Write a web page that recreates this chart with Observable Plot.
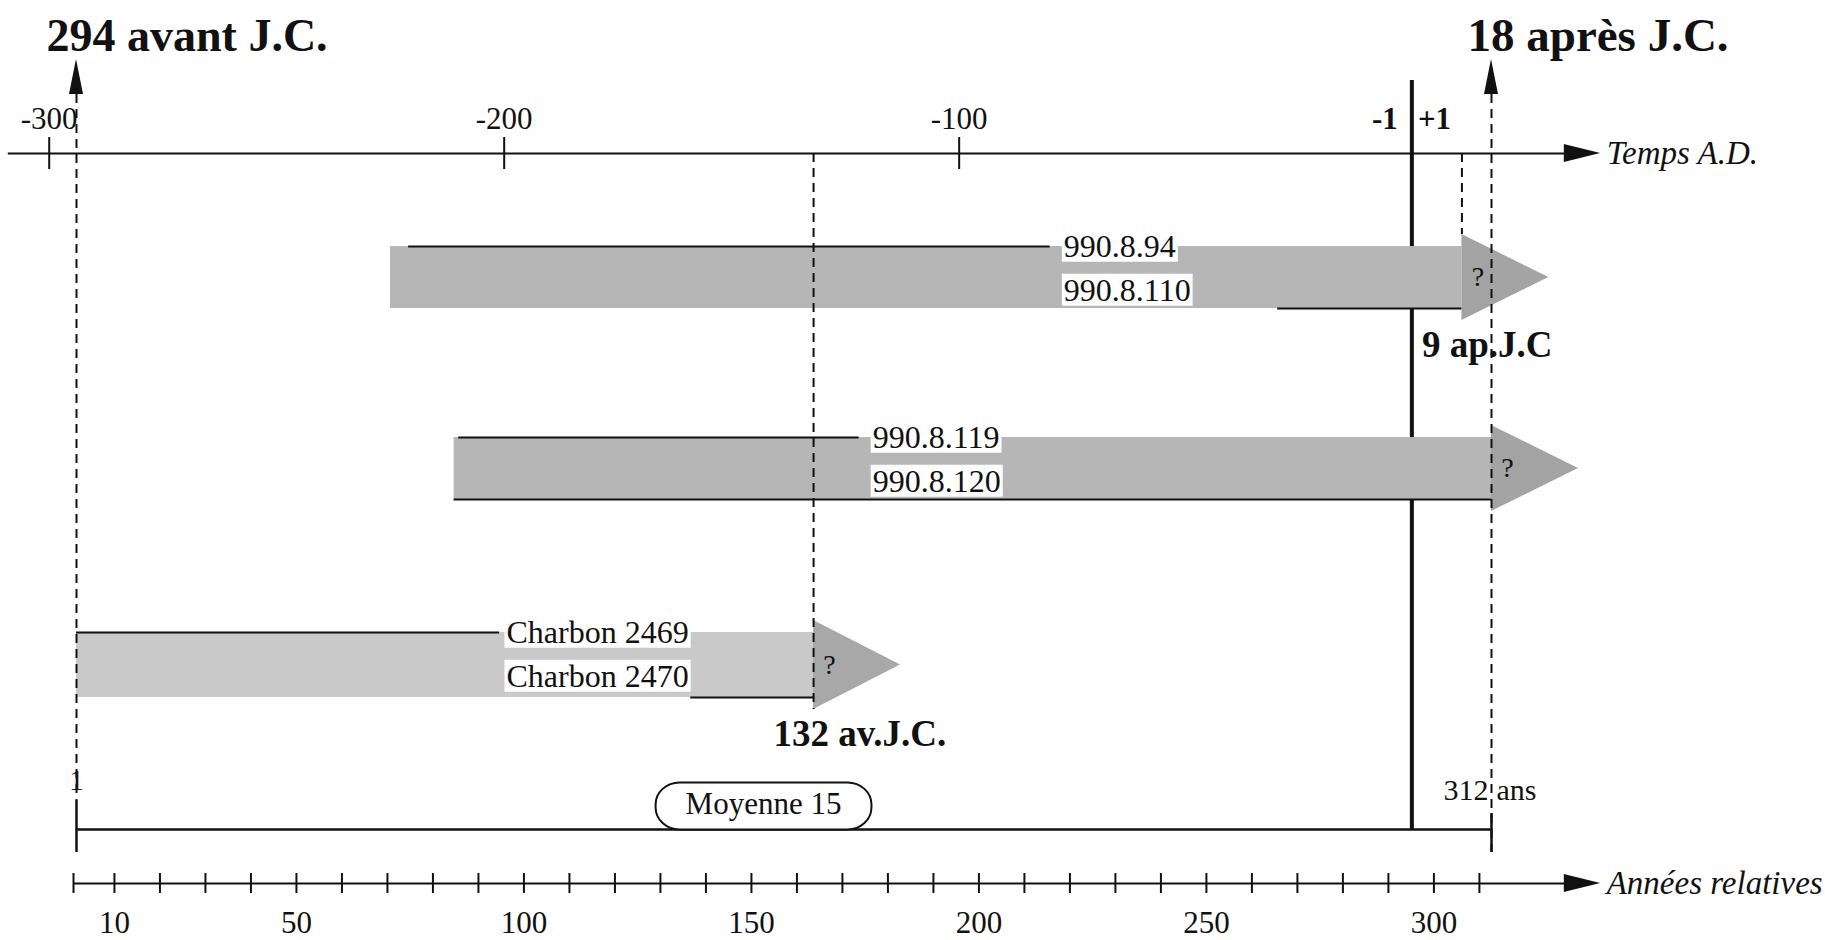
<!DOCTYPE html>
<html><head><meta charset="utf-8">
<script src="https://cdn.jsdelivr.net/npm/d3@7"></script>
<script src="https://cdn.jsdelivr.net/npm/@observablehq/plot@0.6"></script>
<style>
html,body{margin:0;padding:0;background:#fff;}
#chart{width:1825px;height:940px;overflow:hidden;}
</style></head><body><div id="chart"></div>
<script>
// ---------------- data ----------------
const startYear = -294;                 // 294 avant J.C.
const endYear = 18;                     // 18 après J.C.
const spanYears = 312;                  // 312 ans
const topAxisYears = [-300, -200, -100];
const relTicks = [1, 10, 20, 30, 40, 50, 60, 70, 80, 90, 100, 110, 120, 130, 140, 150, 160,
                  170, 180, 190, 200, 210, 220, 230, 240, 250, 260, 270, 280, 290, 300, 310];
const relTickLabels = [10, 50, 100, 150, 200, 250, 300];
const groups = ["A", "B", "C"];
const sampleTop = ["990.8.94", "990.8.119", "Charbon 2469"];
const sampleBottom = ["990.8.110", "990.8.120", "Charbon 2470"];
const barStart = [70, 84, 1];            // relative years
const barEnd = [305.5, 312, 163];
const topEdgeFrom = [74, 85, 1];
const topEdgeTo = [215, 173, 94];
const bottomEdgeFrom = [265, 84, 136];
const labelAt = [218, 176, 95.5];
const endLabel = ["9 ap.J.C", "", "132 av.J.C."];
const meanLabel = "Moyenne 15";
const meanAt = 152;

// ---------------- helpers / layout ----------------
const rel = (y) => (y < 0 ? y + 295 : y + 294);   // no year 0
const X0 = 76, X1 = 1491;                         // pixel range of [1, 312]
const k = (X1 - X0) / (spanYears - 1);
const yr = (p) => p / k;                          // px length -> years

const L = {
  titleBase: 50, upTip: 59, upBase: 94, upHalf: 7,
  topAxis: 153, topTickHalf: 16, topLabel: 119, zeroTop: 80,
  axisLeft: -14, axisBase: 328, axisTip: 336, axisHeadHalf: 9,
  rowTop: [246, 437, 632], rowBot: [308, 499, 697],
  headOver: 12, headLen: 87,
  labelTopDy: 0, labelBotDy: 44,
  endLabelDy: 25,
  mean: 829, meanTickTop: 800, meanTickTopR: 813, meanTickBot: 852, meanText: 804,
  botAxis: 883, botTickHalf: 10, botLabel: 923
};
const barFill = ["#b6b6b6", "#b6b6b6", "#c9c9c9"];
const headFill = ["#a3a3a3", "#a3a3a3", "#a8a8a8"];
const FONT = "Liberation Serif, Times New Roman, serif";

const r0 = rel(startYear), r1 = rel(endYear);
const zeroLine = (rel(-1) + rel(1)) / 2;

const bars = groups.map((g, i) => ({
  g, start: barStart[i], end: barEnd[i], top: L.rowTop[i], bot: L.rowBot[i],
  mid: (L.rowTop[i] + L.rowBot[i]) / 2, fill: barFill[i], head: headFill[i]
}));
const heads = bars.flatMap(b => [
  {g: b.g, x: b.end, y1: b.top - L.headOver, y2: b.bot + L.headOver, fill: b.head},
  {g: b.g, x: b.end + yr(L.headLen), y1: b.mid, y2: b.mid, fill: b.head}
]);
const upArrows = [r0, r1].flatMap((r, i) => [
  {id: i, y: L.upBase, xa: r - yr(L.upHalf), xb: r + yr(L.upHalf)},
  {id: i, y: L.upTip, xa: r, xb: r}
]);
const axisHeads = [L.topAxis, L.botAxis].flatMap((y, i) => [
  {id: i, x: L.axisBase, y1: y - L.axisHeadHalf, y2: y + L.axisHeadHalf},
  {id: i, x: L.axisTip, y1: y, y2: y}
]);
const edges = bars.flatMap((b, i) => [
  {x1: topEdgeFrom[i], x2: topEdgeTo[i], y: b.top},
  {x1: bottomEdgeFrom[i], x2: b.end, y: b.bot}
]);
const labels = bars.flatMap((b, i) => [
  {x: labelAt[i], y: b.top + L.labelTopDy, t: sampleTop[i]},
  {x: labelAt[i], y: b.top + L.labelBotDy, t: sampleBottom[i]}
]);
const endDates = bars.map((b, i) => ({x: b.end, y: b.bot + L.headOver + L.endLabelDy, t: endLabel[i]}))
  .filter(d => d.t);

const dash = "9,6";
const chart = Plot.plot({
  width: 1825, height: 940, margin: 0,
  style: {background: "#fff", color: "#111"},
  x: {domain: [r0, r1], range: [X0, X1], axis: null},
  y: {domain: [0, 940], range: [0, 940], axis: null},
  marks: [
    // titles
    Plot.text([startYear], {x: () => r0, y: L.titleBase, text: () => "294 avant J.C.", textAnchor: "start", dx: -30,
      lineAnchor: "bottom", fontSize: 46, fontWeight: "bold", fontFamily: FONT, fill: "#111"}),
    Plot.text([endYear], {x: () => r1, y: L.titleBase, text: () => "18 après J.C.", textAnchor: "start", dx: -24,
      lineAnchor: "bottom", fontSize: 47, fontWeight: "bold", fontFamily: FONT, fill: "#111"}),
    // zero boundary line
    Plot.ruleX([zeroLine], {y1: L.zeroTop, y2: L.mean, stroke: "#111", strokeWidth: 4}),
    // top axis
    Plot.ruleY([L.topAxis], {x1: L.axisLeft, x2: L.axisBase + 1, stroke: "#111", strokeWidth: 2}),
    Plot.ruleX(topAxisYears.map(rel), {y1: L.topAxis - L.topTickHalf, y2: L.topAxis + L.topTickHalf, stroke: "#111", strokeWidth: 2}),
    Plot.text(topAxisYears, {x: rel, y: L.topLabel, text: d => String(d), fontSize: 31, fontFamily: FONT, fill: "#111"}),
    Plot.text(["-1"], {x: () => zeroLine, y: L.topLabel, text: d => d, textAnchor: "end", dx: -14, fontSize: 31, fontWeight: "bold", fontFamily: FONT, fill: "#111"}),
    Plot.text(["+1"], {x: () => zeroLine, y: L.topLabel, text: d => d, textAnchor: "start", dx: 6, fontSize: 31, fontWeight: "bold", fontFamily: FONT, fill: "#111"}),
    Plot.text(["Temps A.D."], {x: () => L.axisTip, y: L.topAxis, text: d => d, textAnchor: "start", dx: 6, fontSize: 33, fontStyle: "italic", fontFamily: FONT, fill: "#111"}),
    // bars
    Plot.rect(bars, {x1: "start", x2: "end", y1: "top", y2: "bot", fill: "fill"}),
    Plot.area(heads, {x1: "x", y1: "y1", y2: "y2", z: "g", fill: "fill", stroke: "none"}),
    Plot.ruleY(edges, {x1: "x1", x2: "x2", y: "y", stroke: "#111", strokeWidth: 2}),
    // dashed reference lines
    Plot.ruleX([r0], {y1: L.upBase, y2: L.meanTickTop, stroke: "#111", strokeWidth: 2, strokeDasharray: dash}),
    Plot.ruleX([r1], {y1: L.upBase, y2: L.meanTickBot, stroke: "#111", strokeWidth: 2, strokeDasharray: dash}),
    Plot.ruleX([bars[2].end], {y1: L.topAxis, y2: bars[2].bot + L.headOver, stroke: "#111", strokeWidth: 2, strokeDasharray: dash}),
    Plot.ruleX([bars[0].end], {y1: L.topAxis, y2: bars[0].top - L.headOver, stroke: "#111", strokeWidth: 2, strokeDasharray: dash}),
    Plot.area(upArrows, {y1: "y", x1: "xa", x2: "xb", z: "id", fill: "#111", stroke: "none"}),
    // question marks
    Plot.text(bars, {x: "end", y: "mid", text: () => "?", dx: 16, fontSize: 28, fontFamily: FONT, fill: "#111"}),
    // sample labels
    Plot.text(labels, {x: "x", y: "y", text: "t", textAnchor: "start", fontSize: 32, fontFamily: FONT, fill: "#111"}),
    // end dates
    Plot.text(endDates, {x: "x", y: "y", text: "t", textAnchor: "start", dx: -40, fontSize: 37, fontWeight: "bold", fontFamily: FONT, fill: "#111"}),
    // mean span line
    Plot.ruleY([L.mean], {x1: r0, x2: r1, stroke: "#111", strokeWidth: 2.5}),
    Plot.ruleX([r0], {y1: L.meanTickTop, y2: L.meanTickBot, stroke: "#111", strokeWidth: 2.5}),
    Plot.ruleX([r1], {y1: L.meanTickTopR, y2: L.meanTickBot, stroke: "#111", strokeWidth: 2.5}),
    Plot.text([r0], {x: d => d, y: L.mean - 49, text: () => "1", fontSize: 30, fontFamily: FONT, fill: "#111"}),
    Plot.text([spanYears], {x: () => r1, y: L.mean - 39, text: d => String(d), textAnchor: "end", dx: -3, fontSize: 30, fontFamily: FONT, fill: "#111"}),
    Plot.text(["ans"], {x: () => r1, y: L.mean - 39, text: d => d, textAnchor: "start", dx: 5, fontSize: 30, fontFamily: FONT, fill: "#111"}),
    Plot.text([meanLabel], {x: () => meanAt, y: L.meanText, text: d => d, fontSize: 31, fontFamily: FONT, fill: "#111"}),
    // bottom axis
    Plot.ruleY([L.botAxis], {x1: relTicks[0], x2: L.axisBase + 1, dx: -3, stroke: "#111", strokeWidth: 2}),
    Plot.ruleX(relTicks, {y1: L.botAxis - L.botTickHalf, y2: L.botAxis + L.botTickHalf, dx: -3, stroke: "#111", strokeWidth: 2}),
    Plot.text(relTickLabels, {x: d => d, y: L.botLabel, text: d => String(d), dx: -3, fontSize: 31, fontFamily: FONT, fill: "#111"}),
    Plot.text(["Années relatives"], {x: () => L.axisTip, y: L.botAxis, text: d => d, textAnchor: "start", dx: 6, fontSize: 33, fontStyle: "italic", fontFamily: FONT, fill: "#111"}),
    Plot.area(axisHeads, {x1: "x", y1: "y1", y2: "y2", z: "id", fill: "#111", stroke: "none"})
  ]
});
document.getElementById("chart").append(chart);

// white boxes behind the sample labels, pill frame around the mean label
const boxed = new Set([...sampleTop, ...sampleBottom]);
d3.select(chart).selectAll("text").each(function () {
  const t = this.textContent;
  if (boxed.has(t)) {
    const b = this.getBBox();
    const r = document.createElementNS("http://www.w3.org/2000/svg", "rect");
    r.setAttribute("x", b.x - 2); r.setAttribute("y", b.y + 2);
    r.setAttribute("width", b.width + 4); r.setAttribute("height", b.height - 4);
    r.setAttribute("fill", "#fff");
    const tr = this.getAttribute("transform"); if (tr) r.setAttribute("transform", tr);
    this.parentNode.insertBefore(r, this);
  } else if (t === meanLabel) {
    const b = this.getBBox();
    const m = /translate\(([-\d.]+),\s*([-\d.]+)\)/.exec(this.getAttribute("transform") || "");
    const ty = m ? +m[2] : 0;
    const top = b.y - 4, bottom = L.mean - ty;
    const r = document.createElementNS("http://www.w3.org/2000/svg", "rect");
    r.setAttribute("x", b.x - 30); r.setAttribute("y", top);
    r.setAttribute("width", b.width + 60); r.setAttribute("height", bottom - top);
    r.setAttribute("rx", 24); r.setAttribute("ry", 22);
    r.setAttribute("fill", "#fff"); r.setAttribute("stroke", "#111"); r.setAttribute("stroke-width", 2);
    const tr = this.getAttribute("transform"); if (tr) r.setAttribute("transform", tr);
    this.parentNode.insertBefore(r, this);
  }
});
</script>
</body></html>
